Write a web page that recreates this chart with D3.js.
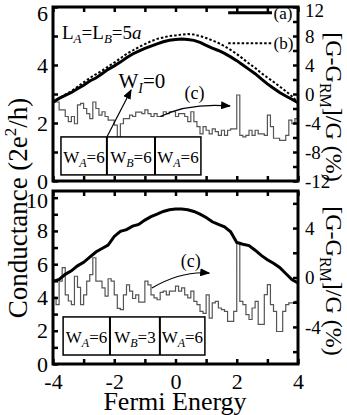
<!DOCTYPE html>
<html>
<head>
<meta charset="utf-8">
<script src="https://cdn.jsdelivr.net/npm/d3@7"></script>
<style>
body { margin: 0; background: #fff; }
svg { display: block; }
text { font-family: "Liberation Serif", "Times New Roman", serif; fill: #000; }
</style>
</head>
<body>
<svg width="347" height="415"></svg>
<script>
// x grid (Fermi energy)
const energyTicks = [-4, -3, -2, -1, 0, 1, 2, 3, 4];
const energyLabels = [-4, -2, 0, 2, 4];
const curveEnergy = d3.range(41).map(i => -4 + i * 0.2);
const stepEnergy = d3.range(81).map(i => -4 + i * 0.1);

// top panel axes
const topLeftTicks = [0, 1, 2, 3, 4, 5, 6];
const topLeftLabels = [0, 2, 4, 6];
const topRightTicks = [-12, -10, -8, -6, -4, -2, 0, 2, 4, 6, 8, 10, 12];
const topRightLabels = [-12, -8, -4, 0, 4, 8, 12];

// bottom panel axes
const botLeftTicks = [0, 1, 2, 3, 4, 5, 6, 7, 8, 9, 10];
const botLeftLabels = [0, 2, 4, 6, 8, 10];
const botRightTicks = [-6, -4, -2, 0, 2, 4, 6];
const botRightLabels = [-4, 0, 4];

// conductance, top panel (a) solid, (b) dotted
const topA = [2.72, 2.85, 2.95, 3.05, 3.18, 3.30, 3.45, 3.55, 3.70, 3.85, 3.97, 4.10, 4.25, 4.38,
    4.48, 4.57, 4.65, 4.73, 4.80, 4.85, 4.88, 4.90, 4.88, 4.85, 4.78, 4.68, 4.58, 4.50, 4.40,
    4.28, 4.15, 4.00, 3.85, 3.70, 3.52, 3.35, 3.20, 3.05, 2.93, 2.82, 2.70];
const topB = [2.72, 2.85, 2.98, 3.10, 3.25, 3.40, 3.55, 3.68, 3.80, 3.95, 4.08, 4.23, 4.38, 4.50,
    4.62, 4.72, 4.82, 4.90, 4.95, 5.00, 5.02, 5.05, 5.07, 5.05, 5.00, 4.93, 4.85, 4.76, 4.65,
    4.52, 4.38, 4.22, 4.05, 3.90, 3.72, 3.57, 3.42, 3.26, 3.10, 2.92, 2.70];
// (c) relative difference in %, top panel
const topC = [-1.1, -1.1, -2.2, -2.2, -3.1, -3.8, -3.1, -4.1, -1.5, -1.3, -2.0, -2.7, -3.4, -1.1,
    -2.0, -2.9, -2.45, -3.1, -3.6, -3.6, -4.3, -6.2, -4.1, -3.4, -3.4, -2.9, -3.1, -2.5, -2.5,
    -2.7, -2.2, -2.7, -3.1, -2.7, -3.1, -3.1, -2.45, -2.7, -2.45, -2.45,
    -3.1, -2.7, -2.7, -3.1, -3.8, -2.45, -3.8, -4.5, -5.5, -4.5, -5.0, -5.5, -4.8, -5.2, -5.7,
    -5.0, -5.7, -5.0, -4.8, -4.8, -0.14, -5.7, -5.9, -5.7, -5.0, -5.7, -5.0, -5.5, -5.5, -5.7,
    -2.9, -4.5, -6.1, -6.1, -6.4, -6.4, -5.7, -3.6, -4.1, -3.4];

// bottom panel
const botA = [4.97, 5.08, 5.39, 5.60, 5.90, 6.11, 6.42, 6.73, 6.94, 7.15, 7.67, 7.98, 8.08, 8.29,
    8.39, 8.65, 8.86, 9.01, 9.17, 9.27, 9.32, 9.32, 9.27, 9.17, 9.01, 8.81, 8.55, 8.39, 8.24,
    7.95, 7.30, 7.20, 7.12, 6.84, 6.53, 6.27, 6.06, 5.80, 5.44, 5.08, 4.87];
const botC = [-1.6, -2.2, -0.3, 0.8, -1.4, -1.9, -2.2, 0.1, -0.8, -2.2, -1.4, -0.3, 0.24, 1.6,
    -0.3, -0.3, -0.84, -1.5, -0.1, -0.3, -1.4, -2.5, -2.6, -1.4, -0.6, -1.1, -1.7, -1.4, -2.0,
    -2.0, -0.3, -0.6, -1.4, -1.65, -1.8, -1.2, -1.1, -1.4, -1.1, -1.1,
    -0.7, -1.1, -0.84, -1.4, -1.65, -1.1, -1.93, -2.2, -2.74, -2.9, -1.4, -3.28, -2.06, -1.93,
    -2.47, -2.6, -2.74, -3.55, -3.55, -2.74, 2.85, -1.93, -2.2, -3.0, -3.4, -2.47, -1.93, -3.8,
    -3.8, -1.38, -0.57, -2.2, -2.74, -4.37, -4.37, -2.74, -2.2, -2.06, -2.06, -1.93];

// lead/barrier boxes
const topBoxEdges = [-3.74, -2.24, -0.67, 0.83];
const topBoxNames = [["A", "6"], ["B", "6"], ["A", "6"]];
const botBoxEdges = [-3.67, -2.14, -0.51, 0.96];
const botBoxNames = [["A", "6"], ["B", "3"], ["A", "6"]];

const svg = d3.select("svg");
const x = d3.scaleLinear([-4, 4], [53, 298]);

const panels = [
    {
        top: 7, bottom: 181,
        yL: d3.scaleLinear([0, 6], [181, 7]),
        yR: d3.scaleLinear([-12, 12], [181, 7]),
        leftTicks: topLeftTicks, leftLabels: topLeftLabels,
        rightTicks: topRightTicks, rightLabels: topRightLabels,
        boxEdges: topBoxEdges, boxNames: topBoxNames, boxG: [0.21, 1.52],
        showX: false, topShift: 6
    },
    {
        top: 191, bottom: 364,
        yL: d3.scaleLinear([0, 10.4], [364, 191]),
        yR: d3.scaleLinear([-7, 7], [364, 191]),
        leftTicks: botLeftTicks, leftLabels: botLeftLabels,
        rightTicks: botRightTicks, rightLabels: botRightLabels,
        boxEdges: botBoxEdges, boxNames: botBoxNames, boxG: [0.54, 2.83],
        showX: true, topShift: 3
    }
];

svg.append("defs").append("marker")
    .attr("id", "head")
    .attr("viewBox", "0 0 10 8")
    .attr("refX", 9).attr("refY", 4)
    .attr("markerWidth", 10).attr("markerHeight", 8)
    .attr("markerUnits", "userSpaceOnUse")
    .attr("orient", "auto")
    .append("path").attr("d", "M0,0L10,4L0,8z").attr("fill", "#000");

// plain hyphen for negatives, as in the original figure
const fmt = labels => d => labels.includes(d) ? String(d) : "";

function axes(g, p) {
    const tick = 5;
    g.append("g").attr("transform", `translate(0,${p.bottom})`)
        .call(d3.axisBottom(x).tickValues(energyTicks).tickSize(-tick).tickPadding(9)
            .tickFormat(p.showX ? fmt(energyLabels) : () => ""));
    g.append("g").attr("transform", `translate(0,${p.top})`)
        .call(d3.axisTop(x).tickValues(energyTicks).tickSize(-tick).tickFormat(() => ""));
    g.append("g").attr("class", "yl").attr("transform", `translate(${x(-4)},0)`)
        .call(d3.axisLeft(p.yL).tickValues(p.leftTicks).tickSize(-tick).tickPadding(5)
            .tickFormat(fmt(p.leftLabels)));
    g.append("g").attr("class", "yr").attr("transform", `translate(${x(4)},0)`)
        .call(d3.axisRight(p.yR).tickValues(p.rightTicks).tickSize(-tick).tickPadding(7)
            .tickFormat(fmt(p.rightLabels)));
    g.selectAll(".domain").remove();
    g.selectAll(".tick line").attr("stroke", "#000").attr("stroke-width", 2.5);
    g.selectAll(".tick text").attr("font-size", 22);
    g.selectAll(".yr .tick text").attr("font-size", 19);
    // keep the topmost labels inside their panel
    g.selectAll(".yl .tick text")
        .filter(d => d === p.leftTicks[p.leftTicks.length - 1])
        .attr("y", p.topShift);
    g.selectAll(".yr .tick text")
        .filter(d => d === p.rightTicks[p.rightTicks.length - 1])
        .attr("y", 3);
    g.append("rect")
        .attr("x", x(-4)).attr("y", p.top)
        .attr("width", x(4) - x(-4)).attr("height", p.bottom - p.top)
        .attr("fill", "none").attr("stroke", "#000").attr("stroke-width", 3);
}

function stepCurve(g, p, values) {
    const pts = stepEnergy.map((e, i) => [e, values[Math.min(i, values.length - 1)]]);
    g.append("path")
        .attr("d", d3.line().x(d => x(d[0])).y(d => p.yR(d[1])).curve(d3.curveStepAfter)(pts))
        .attr("fill", "none").attr("stroke", "#555").attr("stroke-width", 1.2);
}

function thickCurve(g, p, values, dash) {
    const line = d3.line().x((d, i) => x(curveEnergy[i])).y(d => p.yL(d));
    g.append("path").attr("d", line(values))
        .attr("fill", "none").attr("stroke", "#000")
        .attr("stroke-width", dash ? 2 : 3)
        .attr("stroke-dasharray", dash ? "2.5 2" : null);
}

function boxes(g, p) {
    const y0 = p.yL(p.boxG[1]), y1 = p.yL(p.boxG[0]);
    const e = p.boxEdges;
    g.append("rect")
        .attr("x", x(e[0])).attr("y", y0)
        .attr("width", x(e[3]) - x(e[0])).attr("height", y1 - y0)
        .attr("fill", "#fff").attr("stroke", "#000").attr("stroke-width", 1.5);
    g.selectAll(".div").data([e[1], e[2]]).join("line")
        .attr("x1", d => x(d)).attr("x2", d => x(d))
        .attr("y1", y0).attr("y2", y1)
        .attr("stroke", "#000").attr("stroke-width", 2);
    p.boxNames.forEach((n, i) => {
        const t = g.append("text")
            .attr("x", (x(e[i]) + x(e[i + 1])) / 2)
            .attr("y", (y0 + y1) / 2 + 7)
            .attr("text-anchor", "middle").attr("font-size", 17);
        t.append("tspan").text("W");
        t.append("tspan").attr("font-size", 12).attr("font-style", "italic").attr("dy", 4).text(n[0]);
        t.append("tspan").attr("dy", -4).text("=" + n[1]);
    });
}

panels.forEach((p, k) => {
    const g = svg.append("g");
    stepCurve(g, p, k === 0 ? topC : botC);
    if (k === 0) {
        thickCurve(g, p, topB, true);
        thickCurve(g, p, topA, false);
    } else {
        thickCurve(g, p, botA, false);
    }
    boxes(g, p);
    axes(g, p);
});

// annotations
const topP = panels[0], botP = panels[1];
svg.append("line")
    .attr("x1", x(-2.24)).attr("y1", topP.yL(1.52))
    .attr("x2", x(-1.45)).attr("y2", topP.yL(3.14))
    .attr("stroke", "#000").attr("stroke-width", 1.2).attr("marker-end", "url(#head)");

const wi = svg.append("text").attr("x", x(-1.86)).attr("y", topP.yL(3.2)).attr("font-size", 21);
wi.append("tspan").text("W");
wi.append("tspan").attr("font-size", 14).attr("font-style", "italic").attr("dy", 5).text("I");
wi.append("tspan").attr("dy", -5).text("=0");

const arrowC = [
    { p: topP, pts: [[-0.5, -3.1], [0.45, -1.2], [1.78, -1.66]], label: [0.62, -0.75] },
    { p: botP, pts: [[-0.77, -0.85], [0.2, 0.55], [1.1, 0.36]], label: [0.5, 0.85] }
];
arrowC.forEach(a => {
    const [s, c, e] = a.pts.map(d => [x(d[0]), a.p.yR(d[1])]);
    svg.append("path").attr("d", `M${s}Q${c} ${e}`)
        .attr("fill", "none").attr("stroke", "#000").attr("stroke-width", 1.2)
        .attr("marker-end", "url(#head)");
    svg.append("text").attr("x", x(a.label[0])).attr("y", a.p.yR(a.label[1]))
        .attr("text-anchor", "middle").attr("font-size", 18).text("(c)");
});

const lab = svg.append("text").attr("x", 62).attr("y", 39).attr("font-size", 19);
lab.append("tspan").text("L");
lab.append("tspan").attr("font-size", 13).attr("font-style", "italic").attr("dy", 4).text("A");
lab.append("tspan").attr("dy", -4).text("=L");
lab.append("tspan").attr("font-size", 13).attr("font-style", "italic").attr("dy", 4).text("B");
lab.append("tspan").attr("dy", -4).text("=5");
lab.append("tspan").attr("font-style", "italic").text("a");

// axis titles
const yt = svg.append("text").attr("transform", "translate(27,208) rotate(-90)")
    .attr("text-anchor", "middle").attr("font-size", 27);
yt.append("tspan").text("Conductance (2e");
yt.append("tspan").attr("font-size", 17).attr("dy", -11).text("2");
yt.append("tspan").attr("dy", 11).text("/h)");

svg.append("text").attr("x", 175).attr("y", 410)
    .attr("text-anchor", "middle").attr("font-size", 26).text("Fermi Energy");

[107, 281].forEach(cy => {
    const t = svg.append("text").attr("transform", `translate(326,${cy}) rotate(90)`)
        .attr("text-anchor", "middle").attr("font-size", 24);
    t.append("tspan").text("[G-G");
    t.append("tspan").attr("font-size", 16).attr("dy", 6).text("RM");
    t.append("tspan").attr("dy", -6).text("]/G (%)");
});

// legend, drawn last
const legend = [{ name: "(a)", g: 5.8, dash: "none", w: 3 }, { name: "(b)", g: 4.75, dash: "2.5 2", w: 2 }];
const legendLine = d3.line().x(d => x(d[0])).y(d => topP.yL(d[1]));
legend.forEach(l => {
    svg.append("path")
        .attr("d", legendLine([[1.72, l.g], [3.15, l.g]]))
        .attr("fill", "none").attr("stroke", "#000").attr("stroke-width", l.w)
        .attr("stroke-dasharray", l.dash);
    svg.append("text").attr("x", x(3.2)).attr("y", topP.yL(l.g) + 6)
        .attr("font-size", 17).text(l.name);
});
</script>
</body>
</html>
